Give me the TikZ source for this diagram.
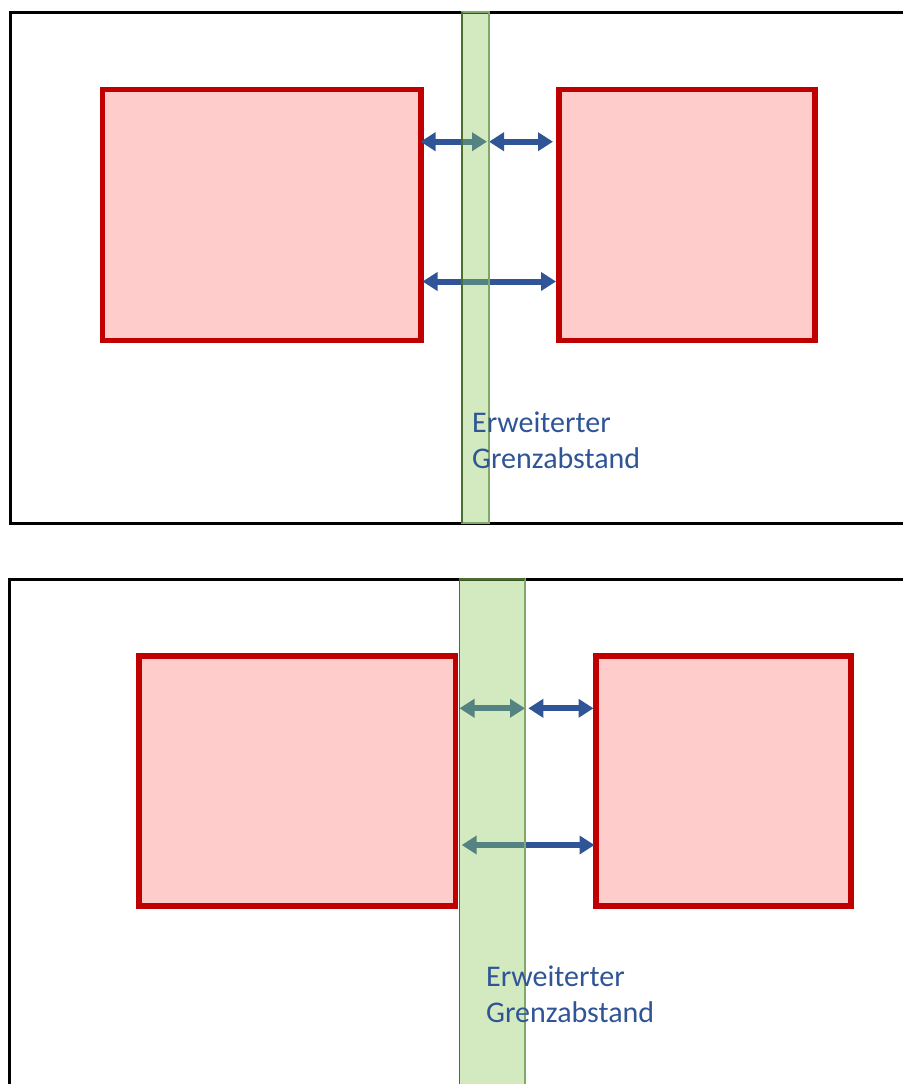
\documentclass[tikz,border=0pt]{standalone}
\usepackage{fontspec}
\setmainfont{Carlito}
\usetikzlibrary{arrows.meta}
\definecolor{boxred}{HTML}{C00000}
\definecolor{boxfill}{HTML}{FFCCCC}
\definecolor{arrblue}{HTML}{2F5597}
\definecolor{stripfill}{HTML}{90C860}
\definecolor{stripline}{HTML}{80A868}
\definecolor{stripdark}{HTML}{4A7030}
\tikzset{
  frame/.style={draw=black, line width=3pt},
  redbox/.style={draw=boxred, fill=boxfill, line width=5.5pt},
  dimarrow/.style={draw=arrblue, line width=6pt, {Triangle[width=18pt,length=15pt]}-{Triangle[width=18pt,length=15pt]}},
  strip/.style={fill=stripfill, fill opacity=0.4, draw=stripline, draw opacity=1, line width=1.6pt},
  stripedge/.style={draw=stripdark, line width=1.6pt},
  label/.style={text=arrblue, font=\fontsize{30}{36}\selectfont, inner sep=0pt, anchor=base west}
}
\begin{document}
\begin{tikzpicture}[x=1pt,y=-1pt]
\useasboundingbox (0,0) rectangle (902,1084);
% ---------- top panel ----------
\coordinate (f1a) at (905,12.8);
\coordinate (f1b) at (10.5,12.8);
\coordinate (f1c) at (10.5,523);
\coordinate (f1d) at (905,523);
\draw[frame] (f1a) -- (f1b) -- (f1c) -- (f1d);
\path[redbox] (102.5,89.5) rectangle (421,340.5);
\path[redbox] (559,89.5) rectangle (815,340.5);
\coordinate (a1l) at (420.5,141.7);
\coordinate (a1m) at (487,141.7);
\coordinate (a1n) at (489,141.7);
\coordinate (a1r) at (553,141.7);
\coordinate (a2l) at (422.5,281.5);
\coordinate (a2r) at (556,281.5);
\draw[dimarrow] (a1l) -- (a1m);
\draw[dimarrow] (a1n) -- (a1r);
\draw[dimarrow] (a2l) -- (a2r);
\coordinate (s1tl) at (462,12);
\coordinate (s1br) at (489,523);
\coordinate (s1bl) at (462,523);
\path[strip] (s1tl) rectangle (s1br);
\draw[stripedge] (s1tl) -- (s1bl);
\node[label] (t1a) at (472,432) {Erweiterter};
\node[label] (t1b) at (472,468) {Grenzabstand};
% ---------- bottom panel ----------
\coordinate (f2a) at (905,579.5);
\coordinate (f2b) at (9.7,579.5);
\coordinate (f2c) at (9.7,1090);
\draw[frame] (f2a) -- (f2b) -- (f2c);
\path[redbox] (139,656) rectangle (455.5,906);
\path[redbox] (596,656) rectangle (851,906);
\coordinate (b1l) at (459.5,708.3);
\coordinate (b1m) at (525,708.3);
\coordinate (b1n) at (528.3,708.3);
\coordinate (b1r) at (593.5,708.3);
\coordinate (b2l) at (461.7,845);
\coordinate (b2r) at (594.5,845);
\draw[dimarrow] (b1l) -- (b1m);
\draw[dimarrow] (b1n) -- (b1r);
\draw[dimarrow] (b2l) -- (b2r);
\coordinate (s2tl) at (459.5,579);
\coordinate (s2br) at (525,1095);
\coordinate (s2tr) at (525,579);
\coordinate (s2bl) at (459.5,1095);
\path[strip] (s2tl) rectangle (s2br);
\draw[stripedge] (s2bl) -- (s2tl) -- (s2tr);
\node[label] (t2a) at (486,986) {Erweiterter};
\node[label] (t2b) at (486,1022) {Grenzabstand};
\end{tikzpicture}
\end{document}
